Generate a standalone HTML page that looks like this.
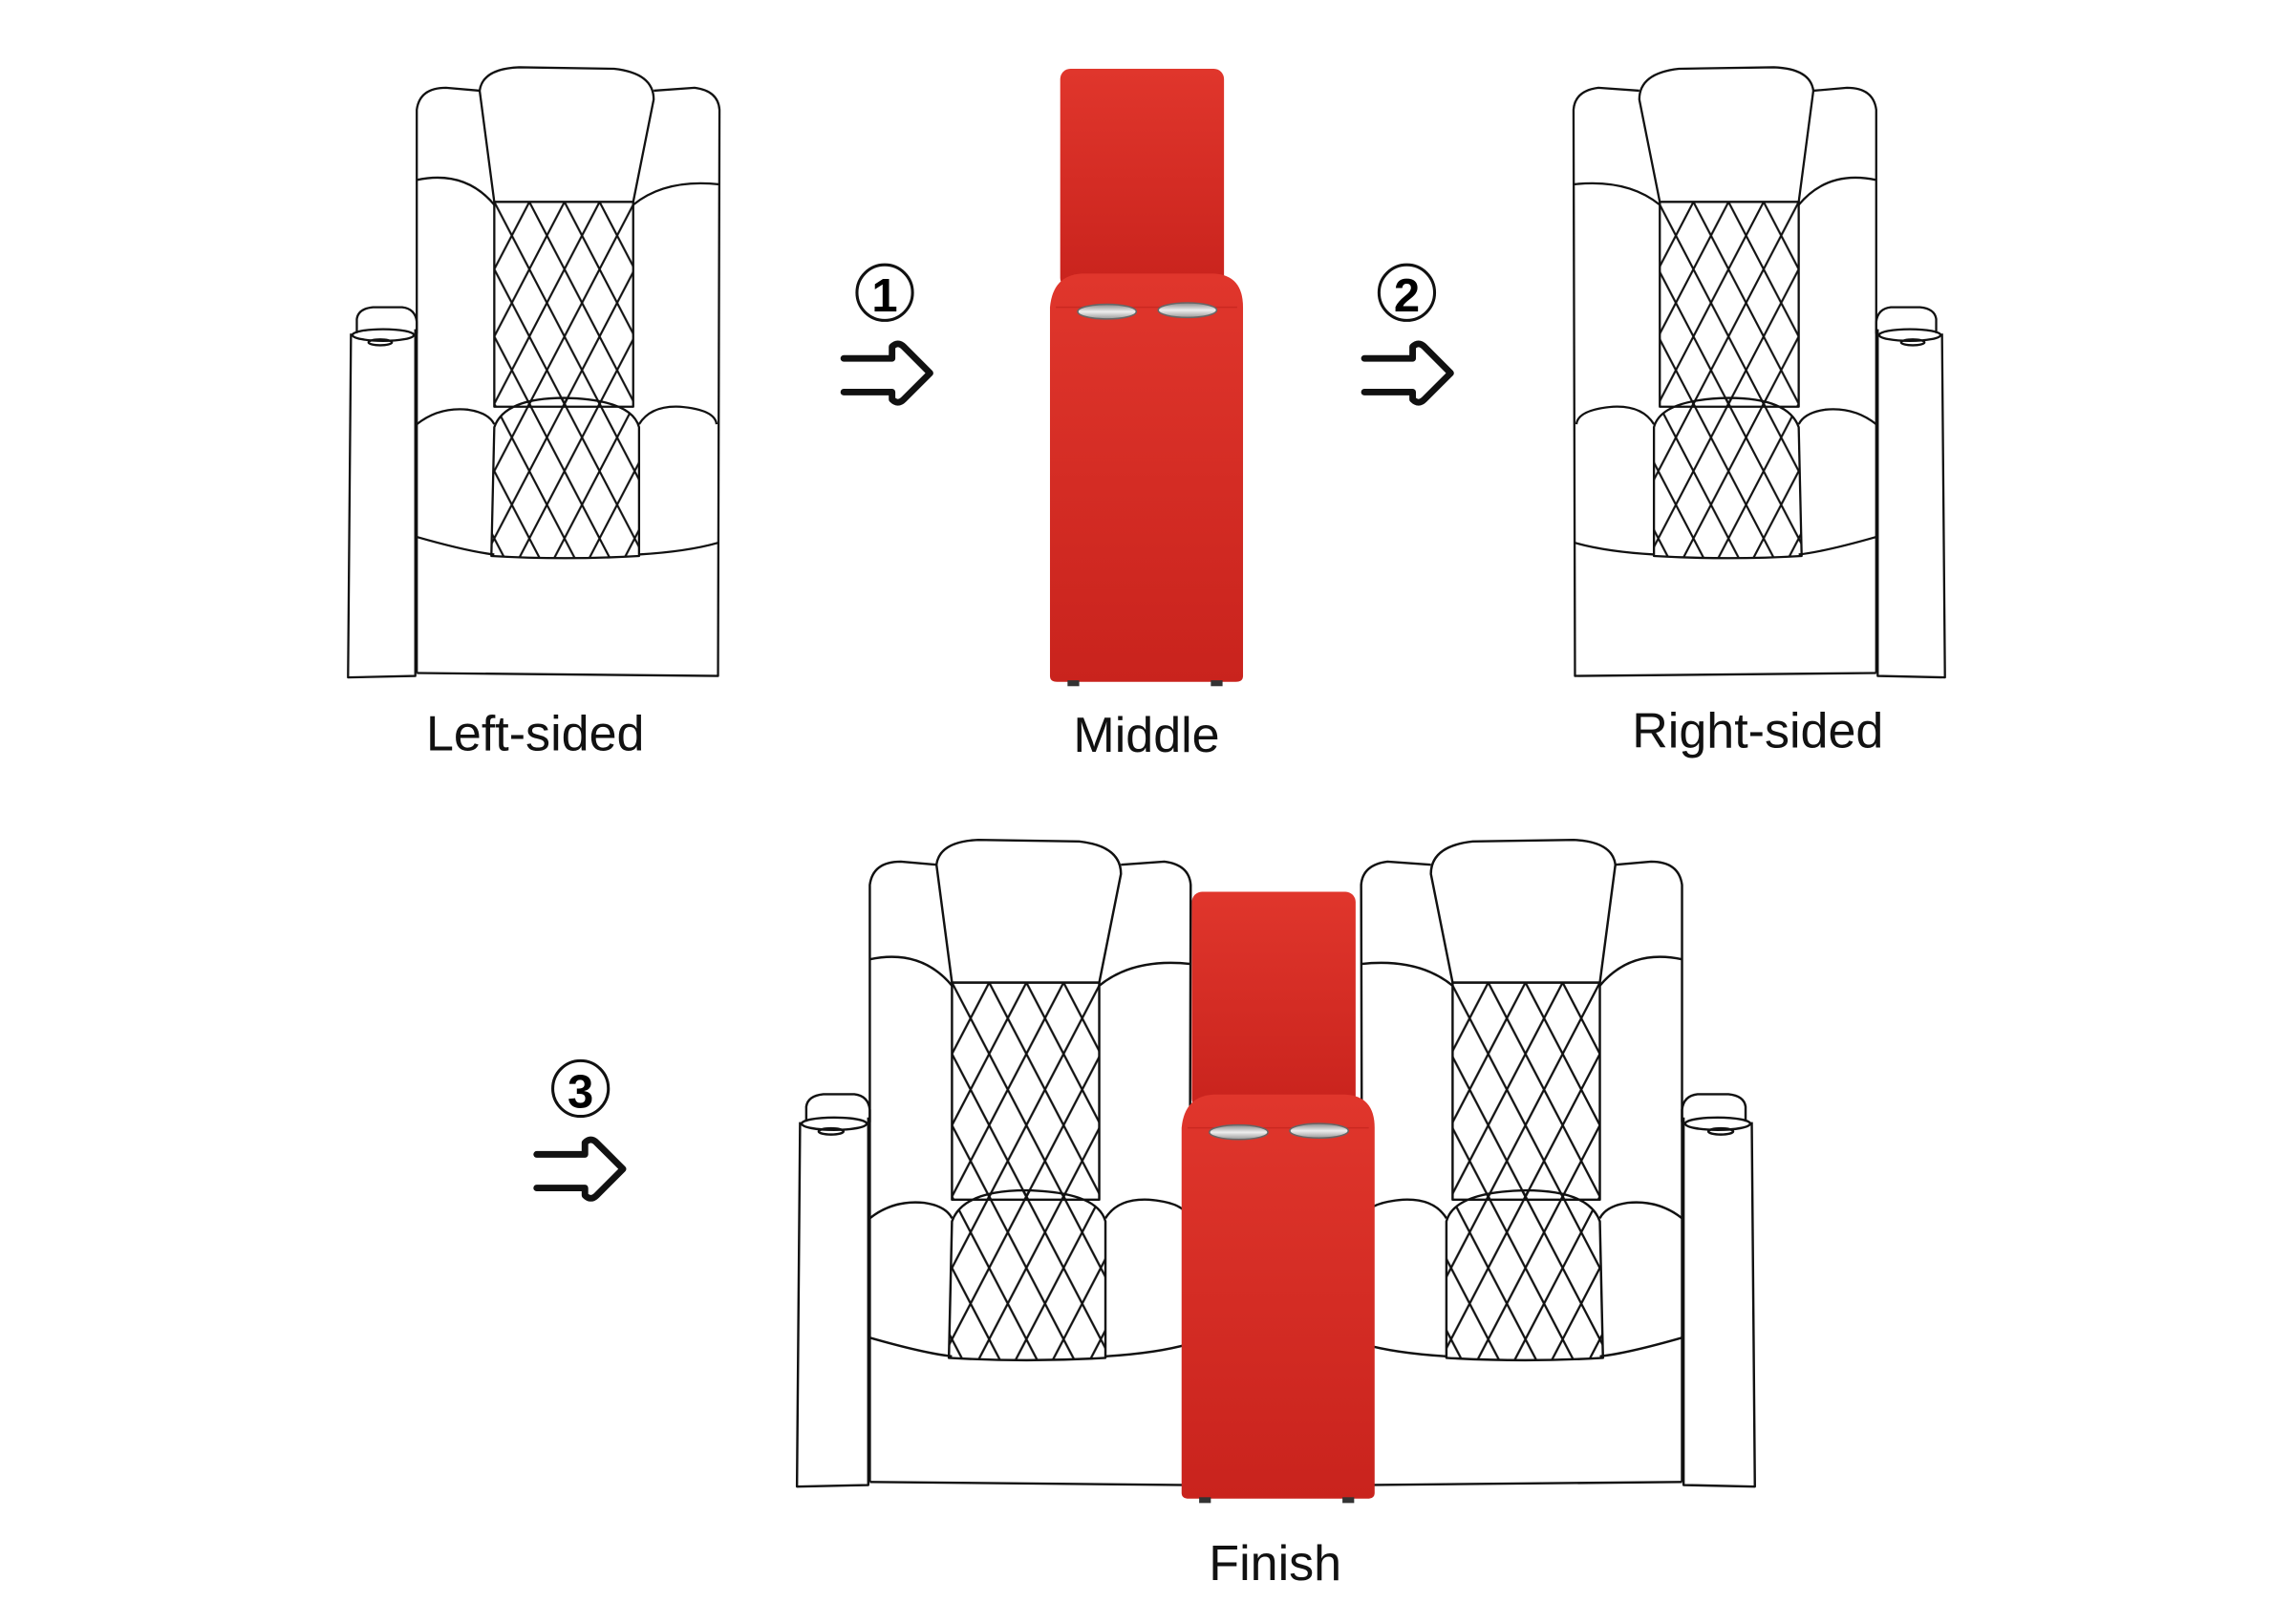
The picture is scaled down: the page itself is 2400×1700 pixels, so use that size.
<!DOCTYPE html>
<html><head><meta charset="utf-8"><style>
html,body{margin:0;padding:0;background:#fff;}
svg{display:block;}
text{font-family:"Liberation Sans",sans-serif;}
</style></head><body>
<svg width="2400" height="1700" viewBox="0 0 1568 1110" preserveAspectRatio="none" xmlns="http://www.w3.org/2000/svg">
<defs>
<pattern id="dia" x="338" y="138" width="24" height="46" patternUnits="userSpaceOnUse">
<path d="M0,0 L24,46 M24,0 L0,46 M-12,-23 L12,23 M12,23 L36,69 M36,-23 L12,23 M12,23 L-12,69" stroke="#111" stroke-width="1.4" fill="none"/>
</pattern>
<linearGradient id="red" x1="0" y1="0" x2="0" y2="1">
<stop offset="0" stop-color="#e0362c"/><stop offset="1" stop-color="#c9231d"/>
</linearGradient>
<linearGradient id="silver" x1="0" y1="0" x2="0" y2="1">
<stop offset="0" stop-color="#888"/><stop offset="0.5" stop-color="#eee"/><stop offset="1" stop-color="#999"/>
</linearGradient>
<g id="chair" fill="none" stroke="#111" stroke-width="1.5" stroke-linejoin="round">
<path d="M244,228 L244,218 Q245,211 255,210 L275,210 Q284,211 285,220 L285,228" fill="#fff"/>
<path d="M240,228 L238,463 L284,462 L284,225" fill="#fff"/>
<ellipse cx="262" cy="229" rx="21" ry="4"/>
<ellipse cx="260" cy="234" rx="8" ry="2"/>
<path d="M285,460 L285,75 Q287,60 305,60 L328,62"/>
<path d="M447,62 L475,60 Q491,62 492,75 L491,462 L285,460"/>
<path d="M338,138 L328,62 Q330,47 355,46 L420,47 Q447,50 447,68 L433,138 Z"/>
<path d="M285,123 Q318,116 338,140"/>
<path d="M433,140 Q455,122 492,126"/>
<rect x="338" y="138" width="95" height="140" fill="url(#dia)"/>
<path d="M285,290 Q300,278 320,280 Q334,282 338,290"/>
<path d="M437,290 Q445,277 465,278 Q489,280 490,290"/>
<path d="M285,367 Q320,377 338,379"/>
<path d="M437,379 Q470,377 491,371"/>
<path d="M336,380 L338,292 Q345,272 386,272 Q432,273 437,292 L437,380 Q386,383 336,380 Z" fill="url(#dia)"/>
</g>
<g id="mid">
<rect x="725" y="47" width="112" height="150" rx="7" fill="url(#red)"/>
<path d="M718,210 Q720,188 740,187 L830,187 Q850,188 850,210 L850,462 Q850,466 845,466 L723,466 Q718,466 718,462 Z" fill="url(#red)"/>
<path d="M722,210 L846,210" stroke="#b81e18" stroke-width="1" opacity="0.5"/>
<ellipse cx="757" cy="213" rx="20" ry="5" fill="url(#silver)" stroke="#666" stroke-width="1"/>
<ellipse cx="812" cy="212" rx="20" ry="5" fill="url(#silver)" stroke="#666" stroke-width="1"/>
<rect x="730" y="465" width="8" height="4" fill="#333"/>
<rect x="828" y="465" width="8" height="4" fill="#333"/>
</g>
<g id="arrow" fill="none" stroke="#111" stroke-width="4.5" stroke-linejoin="round" stroke-linecap="round">
<path d="M577,245 L610,245 L610,237 Q614,233 618,237 L636,255 L618,273 Q614,277 610,273 L610,268 L577,268"/>
</g>
</defs>

<use href="#chair"/>
<use href="#chair" transform="translate(1568,0) scale(-1,1)"/>
<use href="#mid"/>

<use href="#arrow"/>
<circle cx="605" cy="200" r="19" fill="none" stroke="#111" stroke-width="2"/>
<text x="605" y="213" font-size="32" font-weight="bold" text-anchor="middle">1</text>
<use href="#arrow" transform="translate(356,0)"/>
<circle cx="962" cy="200" r="19" fill="none" stroke="#111" stroke-width="2"/>
<text x="962" y="213" font-size="32" font-weight="bold" text-anchor="middle">2</text>
<use href="#arrow" transform="translate(-210,544)"/>
<circle cx="397" cy="744" r="19" fill="none" stroke="#111" stroke-width="2"/>
<text x="397" y="757" font-size="32" font-weight="bold" text-anchor="middle">3</text>

<text x="366" y="513" font-size="34" text-anchor="middle" fill="#111">Left-sided</text>
<text x="784" y="514" font-size="34" text-anchor="middle" fill="#111">Middle</text>
<text x="1202" y="511" font-size="34" text-anchor="middle" fill="#111">Right-sided</text>

<use href="#chair" transform="translate(292.7,525.3) scale(1.06)"/>
<use href="#chair" transform="translate(1452.3,525.3) scale(-1.06,1.06)"/>
<use href="#mid" transform="translate(90,563) scale(1,0.99)" />
<text x="872" y="1080" font-size="34" text-anchor="middle" fill="#111">Finish</text>
</svg>
</body></html>
